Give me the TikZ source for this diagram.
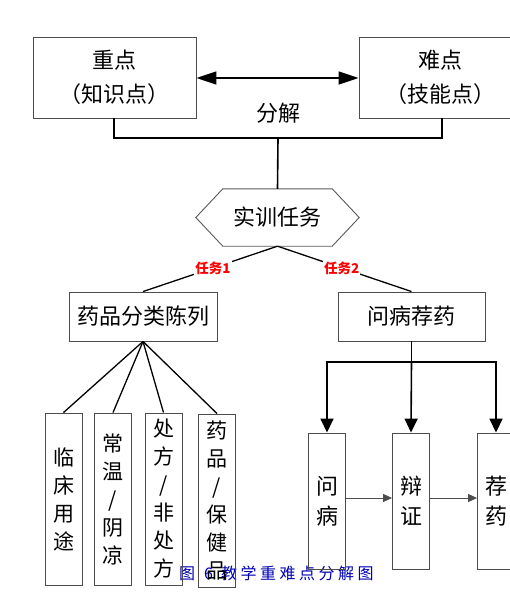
\documentclass[tikz,border=0pt]{standalone}
\usepackage{fontspec}
\setmainfont{Noto Sans CJK SC}
\usetikzlibrary{arrows.meta}
\tikzset{
  box/.style={draw=black!70, line width=0.9pt, inner sep=0pt},
  big/.style={font=\fontsize{22}{34}\selectfont},
  vbox/.style={box, minimum width=37, minimum height=172, align=center, font=\fontsize{21}{28}\selectfont},
  conn/.style={line width=1.6pt, black},
  fan/.style={line width=1.3pt, black},
  task/.style={font=\fontsize{13.5}{13.5}\selectfont\bfseries, text=red, fill=white, inner sep=1pt},
}
\begin{document}
\begin{tikzpicture}[x=1pt,y=-1pt]
\useasboundingbox (0,0) rectangle (509,596);
% top boxes
\node[box, big, minimum width=163, minimum height=81, align=center] (kp) at (114.5,77.5) {重点\\（知识点）};
\node[box, big, minimum width=163, minimum height=81, align=center] (dp) at (440.5,77.5) {难点\\（技能点）};
\draw[line width=1.6pt, {Triangle[length=20pt,width=13pt]}-{Triangle[length=20pt,width=13pt]}] (kp.east |- 0,78) -- (dp.west |- 0,78);
\node[big] (fj) at (278,113) {分解};
\coordinate (j1) at (114,138);
\coordinate (j2) at (442,138);
\coordinate (jm) at (278,138);
% hexagon
\node[big, minimum width=163, minimum height=57] (hex) at (277.5,217.5) {实训任务};
\draw[black!65, line width=0.9pt] (hex.west) -- ([xshift=27]hex.north west) -- ([xshift=-27]hex.north east) -- (hex.east) -- ([xshift=-27]hex.south east) -- ([xshift=27]hex.south west) -- cycle;
\draw[conn] (kp.south -| j1) -- (j1) -- (j2) -- (dp.south -| j2);
\draw[conn] (jm) -- (hex.north);
% second level
\node[box, minimum width=148, minimum height=49, font=\fontsize{22}{22}\selectfont] (cls) at (143,316.5) {药品分类陈列};
\node[box, minimum width=147, minimum height=49, font=\fontsize{22}{22}\selectfont] (wb) at (411.5,316.5) {问病荐药};
\draw[fan] (hex.south) -- node[task, pos=0.48] {任务1} (cls.north);
\draw[fan] (hex.south) -- node[task, pos=0.48] {任务2} (wb.north);
% caption (partly behind the boxes)
\node[anchor=west, text=blue!70!black, font=\fontsize{16}{16}\selectfont, inner sep=0pt] (cap) at (179,573) {图\hspace{9pt}6\hspace{8pt}教\hspace{3.5pt}学\hspace{3.5pt}重\hspace{3.5pt}难\hspace{3.5pt}点\hspace{3.5pt}分\hspace{3.5pt}解\hspace{3.5pt}图};
% four category boxes
\node[vbox] (c1) at (63.5,499) {临\\床\\用\\途};
\node[vbox] (c2) at (113,499) {常\\温\\/\\阴\\凉};
\node[vbox] (c3) at (163.5,499) {处\\方\\/\\非\\处\\方};
\node[vbox, minimum height=173] (c4) at (217,500.5) {药\\品\\/\\保\\健\\品};
\draw[fan] (cls.south) -- (c1.north);
\draw[fan] (cls.south) -- (c2.north);
\draw[fan] (cls.south) -- (c3.north);
\draw[fan] (cls.south) -- (c4.north);
% right branch
\node[vbox, minimum height=136, font=\fontsize{22}{30}\selectfont] (s1) at (327,501) {问\\病};
\node[vbox, minimum height=136, font=\fontsize{22}{30}\selectfont] (s2) at (411,501) {辩\\证};
\node[vbox, minimum height=136, font=\fontsize{22}{30}\selectfont] (s3) at (496,501) {荐\\药};
\coordinate (bj) at (411.5,362);
\draw[conn] (wb.south) -- (bj);
\draw[conn, -{Triangle[length=14pt,width=13pt]}] (bj) -- (s2.north);
\draw[conn, -{Triangle[length=14pt,width=13pt]}] (bj) -| (s1.north);
\draw[conn, -{Triangle[length=14pt,width=13pt]}] (bj) -| (s3.north);
\draw[black!70, line width=0.8pt, -{Triangle[length=9pt,width=8pt]}] (s1.east |- 0,498) -- (s2.west |- 0,498);
\draw[black!70, line width=0.8pt, -{Triangle[length=9pt,width=8pt]}] (s2.east |- 0,498) -- (s3.west |- 0,498);
\end{tikzpicture}
\end{document}
